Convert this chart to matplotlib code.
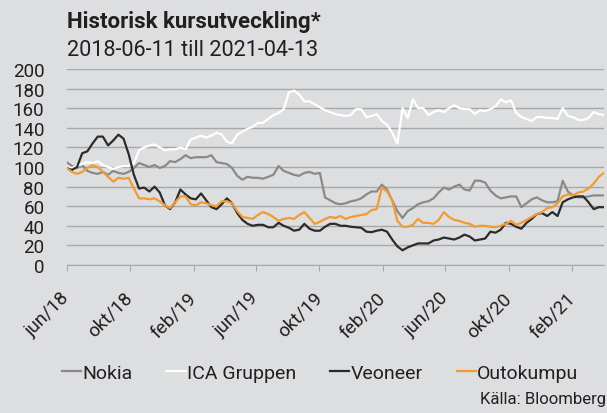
import numpy as np
import pandas as pd
import matplotlib
matplotlib.use("Agg")
import matplotlib.pyplot as plt

# sampling dates for the read-off values (about every 10 days)
start = "2018-06-11"
end = "2021-04-13"
dates = pd.date_range(start, end, periods=105)

nokia = [105, 101, 99, 102, 96, 94, 93, 95, 92, 96,
         94, 93, 95, 99, 104, 102, 100, 102, 99, 101,
         106, 105, 108, 112, 109, 110, 110, 110, 112, 105,
         104, 103, 99, 91, 87, 90, 89, 89, 88, 90,
         92, 101, 96, 94, 92, 91, 94, 95, 93, 94,
         69, 66, 63, 62, 63, 65, 66, 68, 72, 75,
         75, 82, 77, 66, 55, 48, 55, 58, 62, 64,
         65, 68, 74, 79, 77, 80, 82, 77, 76, 86,
         86, 84, 76, 71, 68, 69, 70, 70, 59, 63,
         67, 69, 66, 64, 64, 65, 86, 75, 71, 69,
         69, 70, 71, 71, 71]

ica = [100, 99, 101, 103, 105, 104, 106, 102, 100, 98,
       100, 101, 101, 104, 117, 120, 122, 123, 120, 117,
       118, 118, 120, 118, 128, 130, 132, 130, 132, 135,
       133, 126, 124, 133, 136, 139, 141, 145, 145, 149,
       153, 155, 159, 176, 178, 174, 167, 167, 164, 161,
       158, 156, 154, 153, 152, 153, 159, 159, 151, 152,
       154, 147, 143, 135, 124, 160, 150, 169, 160, 160,
       153, 156, 158, 156, 160, 163, 160, 159, 159, 154,
       158, 157, 159, 162, 169, 166, 168, 155, 151, 149,
       147, 151, 151, 150, 150, 149, 160, 152, 151, 148,
       148, 150, 156, 154, 153]

veoneer = [99, 97, 100, 114, 116, 124, 131, 131, 122, 127,
           133, 129, 113, 92, 78, 79, 75, 80, 74, 61,
           57, 64, 77, 72, 68, 67, 73, 66, 59, 57,
           62, 68, 63, 53, 46, 42, 40, 41, 41, 38.5,
           38.5, 43, 40, 38, 35, 36, 42, 37, 35, 35,
           39, 42, 42, 40, 40, 39, 38.5, 38, 34, 33.5,
           35, 36, 34, 26, 19, 15, 18, 20, 22, 22,
           22, 25, 26, 28, 27, 26, 28, 31, 29, 25,
           26, 27, 34, 33, 36, 43, 42, 39, 37, 43,
           47, 52, 53, 50, 54, 50, 64, 67, 69, 70,
           70, 64, 57, 59, 59]

outokumpu = [99, 95, 93, 95, 99, 102, 100, 95, 90, 85,
             89, 88, 89, 78, 68, 68, 67, 68, 65, 61,
             58, 64, 70, 70, 62, 61, 64, 63, 61, 60,
             65, 65, 63, 55, 49, 48, 47, 51, 54, 52,
             49, 45, 47, 48, 47, 51, 54, 48, 42, 44,
             47, 49, 48, 50, 47, 49, 50, 51, 52, 56,
             57, 79, 75, 66, 45, 39, 39, 41, 47, 43,
             43, 42, 46, 54, 49, 46, 45, 43, 42, 39,
             40, 40, 39, 38.5, 40, 42, 45, 41, 43, 46,
             49, 52, 54, 58, 59, 63, 70, 72, 71, 74,
             75, 78, 83, 90, 94]

tick_dates = pd.to_datetime(["2018-06-11", "2018-10-11", "2019-02-11",
                             "2019-06-11", "2019-10-11", "2020-02-11",
                             "2020-06-11", "2020-10-11", "2021-02-11"])
tick_labels = ["jun/18", "okt/18", "feb/19", "jun/19", "okt/19",
               "feb/20", "jun/20", "okt/20", "feb/21"]

plt.rcParams["font.family"] = ["Roboto", "DejaVu Sans"]
txt = "#231f20"
bg = "#dddee0"
grid = "#a7a8aa"

fig = plt.figure(figsize=(6.07, 4.14), dpi=100, facecolor=bg)
ax = fig.add_axes([0.1099, 0.3575, 0.8852, 0.4734])
ax.set_facecolor(bg)

ax.plot(dates, nokia, color="#8a8a8a", lw=1.6, label="Nokia")
ax.plot(dates, ica, color="white", lw=1.6, label="ICA Gruppen")
ax.plot(dates, veoneer, color="#2b2b2b", lw=1.6, label="Veoneer")
ax.plot(dates, outokumpu, color="#f29b30", lw=1.6, label="Outokumpu")

ax.set_xlim(pd.Timestamp(start), pd.Timestamp(end))
ax.set_ylim(0, 200)
ax.set_yticks(np.arange(0, 201, 20))
ax.yaxis.grid(True, color=grid, lw=1)
ax.set_axisbelow(True)
for s in ["top", "right", "left"]:
    ax.spines[s].set_visible(False)
ax.spines["bottom"].set_color(grid)

ax.tick_params(axis="y", length=0, pad=16, labelsize=13.5, labelcolor=txt)
ax.set_xticks(tick_dates)
ax.set_xticklabels(tick_labels, rotation=45, ha="right", va="center",
                   rotation_mode="anchor")
ax.tick_params(axis="x", length=4.5, color=grid, pad=17, labelsize=13.5,
               labelcolor=txt)

fig.text(0.111, 0.947, "Historisk kursutveckling*", fontsize=16,
         weight="bold", color=txt, va="center")
fig.text(0.111, 0.879, "2018-06-11 till 2021-04-13", fontsize=15.6,
         color=txt, va="center")

fig.legend(loc="center", bbox_to_anchor=(0.527, 0.097), ncol=4,
           frameon=False, fontsize=14, handlelength=1.0, handletextpad=0.05,
           columnspacing=1.75, labelcolor=txt)
fig.text(0.998, 0.034, "Källa: Bloomberg", fontsize=12, color=txt,
         ha="right", va="center")

fig.savefig("out.png", dpi=100, facecolor=bg)
